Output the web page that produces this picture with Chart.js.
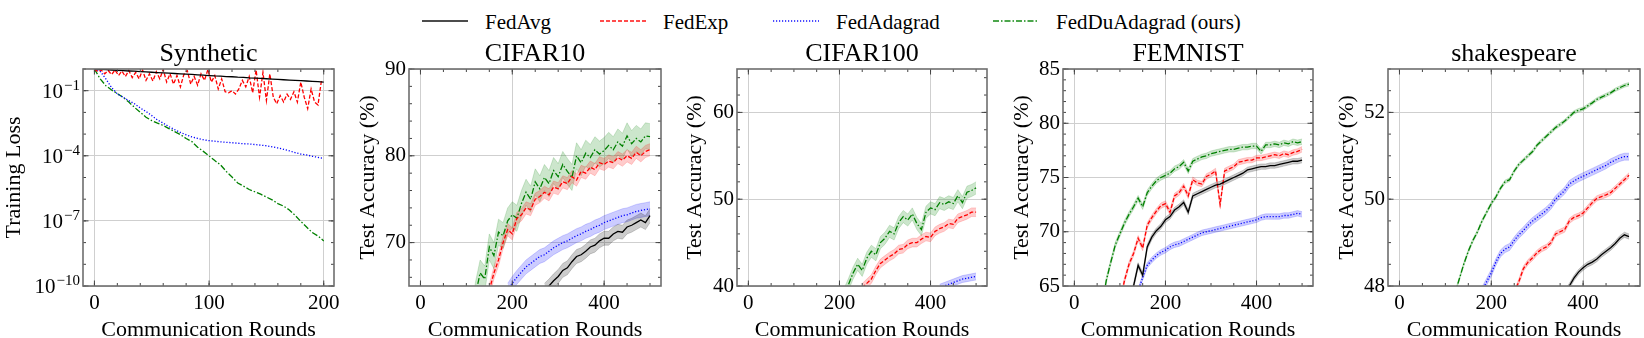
<!DOCTYPE html>
<html>
<head>
<meta charset="utf-8">
<script src="https://cdn.jsdelivr.net/npm/chart.js@4.4.0/dist/chart.umd.min.js"></script>
<style>
  body { margin: 0; width: 1644px; height: 338px; background: #fff; position: relative; overflow: hidden;
         font-family: "Liberation Serif", "DejaVu Serif", serif; }
  canvas { position: absolute; top: 36px; }
  .leg { position: absolute; top: 10px; height: 24px; line-height: 24px; font-size: 21px; display: flex; align-items: center; white-space: nowrap; }
  .leg svg { margin-right: 17px; }
</style>
</head>
<body>
<canvas id="p1" width="345" height="302" style="left:1px"></canvas>
<canvas id="p2" width="318" height="302" style="left:355px"></canvas>
<canvas id="p3" width="317" height="302" style="left:682px"></canvas>
<canvas id="p4" width="316" height="302" style="left:1009px"></canvas>
<canvas id="p5" width="310" height="302" style="left:1334px"></canvas>
<script>
// ---- data ----
const names = ['FedAvg', 'FedExp', 'FedAdagrad', 'FedDuAdagrad (ours)'];
const titles = ['Synthetic', 'CIFAR10', 'CIFAR100', 'FEMNIST', 'shakespeare'];

// synthetic: training loss, every 5 rounds (FedExp every 3 rounds)
const synAvg = [1.0, 0.97, 0.93, 0.90, 0.87, 0.84, 0.81, 0.79, 0.76, 0.73, 0.71, 0.68, 0.66, 0.64, 0.62, 0.60, 0.58, 0.56, 0.54, 0.52,
  0.50, 0.48, 0.47, 0.45, 0.44, 0.42, 0.41, 0.39, 0.38, 0.37, 0.355, 0.34, 0.33, 0.32, 0.31, 0.30, 0.29, 0.28, 0.27, 0.26, 0.25];
const synExp = [1.0, 0.75, 0.9, 0.6, 0.85, 0.55, 0.9, 0.5, 0.8, 0.45, 0.85, 0.4, 0.7, 0.35, 0.9, 0.3, 0.6, 0.28, 0.75, 0.35,
  0.95, 0.25, 0.6, 0.2, 0.5, 0.15, 0.55, 0.85, 0.2, 0.45, 0.18, 0.6, 0.3, 0.95, 0.25, 0.5, 0.12, 0.35, 0.09, 0.08,
  0.1, 0.07, 0.12, 0.3, 0.15, 0.45, 0.08, 0.9, 0.05, 0.7, 0.035, 0.6, 0.05, 0.025, 0.06, 0.03, 0.07, 0.04, 0.09, 0.03,
  0.25, 0.05, 0.015, 0.12, 0.03, 0.022, 0.3];
const synAdagrad = [1.0, 0.79, 0.35, 0.14, 7.1e-2, 5.0e-2, 3.5e-2, 2.5e-2, 1.6e-2, 1.1e-2, 7.1e-3, 4.5e-3, 3.2e-3, 2.2e-3,
  1.6e-3, 1.2e-3, 9.3e-4, 7.4e-4, 6.3e-4, 5.5e-4, 5.0e-4, 4.7e-4, 4.4e-4, 4.2e-4, 4.0e-4, 3.8e-4, 3.6e-4, 3.5e-4,
  3.3e-4, 3.1e-4, 2.9e-4, 2.6e-4, 2.3e-4, 2.0e-4, 1.7e-4, 1.4e-4, 1.2e-4, 1.1e-4, 9.5e-5, 8.5e-5, 7.6e-5];
const synDua = [1.0, 0.35, 0.17, 0.107, 7.4e-2, 5.0e-2, 3.0e-2, 1.7e-2, 1.0e-2, 6.0e-3, 4.2e-3, 3.2e-3, 2.5e-3, 1.8e-3,
  1.3e-3, 9.5e-4, 6.3e-4, 4.5e-4, 2.5e-4, 1.6e-4, 1.0e-4, 6.0e-5, 3.8e-5, 1.9e-5, 1.05e-5, 5.6e-6, 4.0e-6, 2.8e-6,
  2.2e-6, 1.7e-6, 1.26e-6, 9.3e-7, 6.3e-7, 4.8e-7, 3.2e-7, 1.8e-7, 9.5e-8, 5.2e-8, 2.9e-8, 2.0e-8, 1.2e-8];
const lossTicks = [1e-10, 1e-7, 1e-4, 1e-1];
const lossTickExps = ['\u221210', '\u22127', '\u22124', '\u22121'];

// test accuracy, every 10 rounds; each array ends at round 500 (earlier rounds are below the axis)
const c10Avg = [64.5, 65.0, 65.6, 66.1, 66.8, 67.1, 67.8, 68.4, 68.6, 69.0, 69.5, 69.7, 70.2, 70.5, 70.5, 71.0, 71.3, 71.2,
  71.8, 72.0, 72.3, 72.6, 72.3, 73.1];
const c10Exp = [64.5, 66.5, 68.0, 70.0, 71.5, 71.0, 72.8, 73.2, 74.0, 73.8, 75.0, 75.3, 75.8, 75.5, 76.4, 76.2, 77.0, 76.8,
  77.6, 77.2, 78.2, 78.0, 78.7, 78.4, 79.2, 79.0, 79.4, 79.2, 79.8, 79.5, 80.0, 79.7, 80.4, 80.0, 80.5, 80.7];
const c10Adagrad = [64.5, 65.3, 66.0, 66.6, 67.2, 67.6, 68.0, 68.4, 68.6, 69.0, 69.4, 69.7, 70.0, 70.2, 70.5, 70.8, 71.0,
  71.3, 71.5, 71.8, 72.0, 72.3, 72.5, 72.7, 72.9, 73.1, 73.2, 73.4, 73.6, 73.7, 73.8, 73.9];
const c10Dua = [60.0, 64.0, 66.5, 65.8, 69.5, 68.5, 71.2, 70.8, 72.5, 73.2, 72.8, 74.5, 75.8, 75.0, 77.0, 76.2, 77.5, 76.8,
  78.3, 77.6, 79.0, 78.2, 77.5, 80.0, 79.2, 80.3, 79.8, 80.7, 80.2, 80.6, 81.2, 80.7, 81.6, 81.1, 82.3, 81.4, 82.0, 81.6, 82.3, 82.2];
const c10Std = [0.8, 0.7, 0.8, 1.5];

const c100Avg = [];
const c100Exp = [39.8, 40.3, 40.8, 41.8, 42.6, 43.0, 43.4, 43.7, 44.2, 44.3, 44.8, 45.0, 45.0, 45.4, 45.7, 45.6, 46.3, 46.6,
  46.8, 47.2, 47.1, 47.8, 48.0, 48.2, 48.5, 48.5];
const c100Adagrad = [39.8, 40.0, 40.2, 40.4, 40.6, 40.8, 40.9, 41.0, 41.1];
const c100Dua = [39.0, 40.2, 41.5, 42.5, 41.8, 43.2, 44.0, 43.6, 45.0, 45.5, 46.3, 46.0, 47.3, 48.0, 47.6, 48.3, 47.2, 46.5,
  48.5, 49.0, 48.8, 49.6, 49.4, 49.7, 49.5, 50.4, 49.6, 50.8, 51.0, 51.3];
const c100Std = [0.5, 0.5, 0.4, 0.7];

const femAvg = [63.5, 65.0, 66.9, 66.0, 68.6, 69.5, 70.1, 70.5, 71.1, 71.4, 72.0, 72.3, 72.7, 71.8, 73.3, 73.5, 73.7, 73.9,
  74.1, 74.3, 74.4, 74.6, 74.8, 75.0, 75.2, 75.4, 75.7, 75.8, 75.9, 76.0, 76.0, 76.1, 76.1, 76.2, 76.3, 76.4, 76.5, 76.5, 76.6];
const femExp = [63.5, 65.5, 67.0, 68.0, 69.4, 68.5, 70.6, 71.3, 71.9, 72.4, 72.6, 71.8, 73.3, 73.6, 74.2, 73.3, 74.8, 74.5,
  74.4, 75.1, 75.3, 75.6, 72.5, 75.6, 75.8, 76.0, 76.4, 76.5, 76.6, 76.6, 76.8, 76.8, 76.9, 77.0, 77.1, 77.0, 77.2, 77.1,
  77.3, 77.4, 77.6];
const femAdagrad = [64.5, 65.8, 66.9, 67.4, 67.8, 68.1, 68.3, 68.6, 68.8, 68.9, 69.1, 69.3, 69.5, 69.7, 69.9, 70.0, 70.1,
  70.2, 70.3, 70.4, 70.5, 70.6, 70.7, 70.8, 70.9, 71.0, 71.1, 71.3, 71.4, 71.4, 71.4, 71.4, 71.5, 71.5, 71.6, 71.7, 71.6];
const femDua = [63.0, 65.5, 67.2, 68.8, 69.8, 70.8, 71.6, 72.3, 73.1, 72.3, 73.6, 74.2, 74.7, 75.0, 75.2, 75.4, 75.8, 76.0,
  76.4, 75.6, 76.5, 76.7, 76.9, 77.0, 77.2, 77.3, 77.4, 77.5, 77.6, 77.6, 77.7, 77.8, 77.8, 77.9, 77.9, 77.4, 78.0, 78.0,
  78.1, 78.0, 78.2, 78.1, 78.3, 78.2, 78.3];
const femStd = [0.25, 0.25, 0.25, 0.25];

const shkAvg = [47.85, 48.0, 48.18, 48.32, 48.42, 48.5, 48.55, 48.62, 48.72, 48.8, 48.88, 48.98, 49.1, 49.18, 49.14];
const shkExp = [47.85, 48.1, 48.4, 48.55, 48.65, 48.77, 48.85, 48.9, 49.0, 49.2, 49.25, 49.3, 49.5, 49.58, 49.62, 49.68,
  49.8, 49.92, 50.02, 50.06, 50.1, 50.15, 50.25, 50.35, 50.45, 50.55];
const shkAdagrad = [47.9, 48.1, 48.3, 48.55, 48.75, 48.85, 48.9, 49.05, 49.18, 49.28, 49.4, 49.5, 49.58, 49.66, 49.74,
  49.85, 50.0, 50.1, 50.2, 50.35, 50.42, 50.48, 50.53, 50.58, 50.63, 50.68, 50.73, 50.78, 50.85, 50.9, 50.95, 50.98, 50.98];
const shkDua = [47.8, 48.15, 48.5, 48.8, 49.05, 49.25, 49.5, 49.7, 49.9, 50.05, 50.25, 50.4, 50.45, 50.65, 50.8, 50.9,
  51.0, 51.1, 51.25, 51.35, 51.45, 51.55, 51.65, 51.72, 51.8, 51.9, 52.0, 52.05, 52.08, 52.15, 52.22, 52.3, 52.35, 52.4,
  52.45, 52.52, 52.57, 52.62, 52.65];
const shkStd = [0.06, 0.06, 0.08, 0.04];

// ---- styling ----
const FONT = '"Liberation Serif", "DejaVu Serif", serif';
Chart.defaults.font.family = FONT;
Chart.defaults.color = '#000';
const colors = ['0,0,0', '255,0,0', '0,0,255', '0,128,0'];
const dashes = [[], [4, 2], [1.2, 1.8], [6, 2, 1.5, 2]];

const range = (a, b, s) => { const r = []; for (let v = a; v <= b + 1e-9; v += s) r.push(+v.toFixed(6)); return r; };
const synRounds = range(0, 200, 5);
const synExpRounds = range(0, 198, 3);
const accRounds = range(0, 500, 10);

// align a value array to the tail of a rounds array
function pts(rounds, vals, shift) {
  const off = rounds.length - vals.length;
  return vals.map((v, i) => ({ x: rounds[off + i], y: v + (shift || 0) }));
}

function lineDs(k, data) {
  return { data, borderColor: 'rgb(' + colors[k] + ')', borderWidth: 1.3, borderDash: dashes[k],
           pointRadius: 0, tension: 0, fill: false, order: 1 };
}

function accDatasets(series, std) {
  const out = [];
  series.forEach((vals, k) => {
    if (!vals.length) return;
    out.push({ data: pts(accRounds, vals, std[k]), borderColor: 'rgba(' + colors[k] + ',0.25)', borderWidth: 0.7,
               backgroundColor: 'rgba(' + colors[k] + ',0.2)', pointRadius: 0, tension: 0, fill: '+1', order: 2 });
    out.push({ data: pts(accRounds, vals, -std[k]), borderColor: 'rgba(' + colors[k] + ',0.25)', borderWidth: 0.7,
               pointRadius: 0, tension: 0, fill: false, order: 2 });
  });
  series.forEach((vals, k) => { if (vals.length) out.push(lineDs(k, pts(accRounds, vals))); });
  return out;
}

// frame with inward ticks on all four sides, the panel title, and 10^n labels for the log axis
const framePlugin = {
  id: 'frame',
  afterDatasetsDraw(chart, args, o) {
    const { ctx, chartArea: a } = chart;
    const sx = chart.scales.x, sy = chart.scales.y;
    ctx.save();
    ctx.strokeStyle = '#444';
    ctx.lineWidth = 1;
    ctx.beginPath();
    const tx = (v, len) => {
      const p = sx.getPixelForValue(v);
      if (p < a.left || p > a.right) return;
      ctx.moveTo(p, a.bottom); ctx.lineTo(p, a.bottom - len);
      ctx.moveTo(p, a.top); ctx.lineTo(p, a.top + len);
    };
    const ty = (v, len) => {
      const p = sy.getPixelForValue(v);
      if (p < a.top - 0.5 || p > a.bottom + 0.5) return;
      ctx.moveTo(a.left, p); ctx.lineTo(a.left + len, p);
      ctx.moveTo(a.right, p); ctx.lineTo(a.right - len, p);
    };
    o.xMinor.forEach(v => tx(v, 3));
    o.xMajor.forEach(v => tx(v, 5.5));
    o.yMinor.forEach(v => ty(v, 3));
    o.yMajor.forEach(v => ty(v, 5.5));
    ctx.stroke();
    ctx.strokeStyle = '#6e6e6e';
    ctx.lineWidth = 1.6;
    ctx.strokeRect(a.left, a.top, a.right - a.left, a.bottom - a.top);

    ctx.fillStyle = '#000';
    ctx.font = '26px ' + FONT;
    ctx.textAlign = 'center';
    ctx.textBaseline = 'middle';
    ctx.fillText(o.title, (a.left + a.right) / 2, a.top - 14.5);

    if (o.expLabels) {
      ctx.textAlign = 'left';
      ctx.textBaseline = 'alphabetic';
      o.yMajor.forEach((v, i) => {
        const p = sy.getPixelForValue(v);
        ctx.font = '15px ' + FONT;
        const we = ctx.measureText(o.expLabels[i]).width;
        ctx.font = '21px ' + FONT;
        const wm = ctx.measureText('10').width;
        const xe = a.left - 3 - we;
        ctx.fillText('10', xe - wm - 1, p + 7);
        ctx.font = '15px ' + FONT;
        ctx.fillText(o.expLabels[i], xe, p - 1);
      });
    }
    ctx.restore();
  }
};

function makePanel(id, p) {
  new Chart(document.getElementById(id), {
    type: 'line',
    data: { datasets: p.datasets },
    plugins: [framePlugin],
    options: {
      responsive: false,
      animation: false,
      events: [],
      layout: { padding: { left: 0, right: p.rightPad, top: 33, bottom: 0 } },
      plugins: {
        legend: { display: false },
        tooltip: { enabled: false },
        title: { display: false },
        frame: { title: p.title, xMajor: p.xMajor, xMinor: p.xMinor, yMajor: p.yMajor, yMinor: p.yMinor,
                 expLabels: p.expLabels }
      },
      scales: {
        x: {
          type: 'linear', min: p.xMin, max: p.xMax,
          afterBuildTicks: s => { s.ticks = p.xMajor.map(v => ({ value: v })); },
          afterFit: s => { s.height = 52; },
          grid: { color: '#cfcfcf', lineWidth: 1, drawTicks: false },
          border: { display: false },
          ticks: { font: { size: 21 }, color: '#000', padding: 5, maxRotation: 0, autoSkip: false },
          title: { display: true, text: 'Communication Rounds', color: '#000', font: { size: 22 },
                   padding: { top: 0, bottom: -5 } }
        },
        y: {
          type: p.yType || 'linear', min: p.yMin, max: p.yMax,
          afterBuildTicks: s => { s.ticks = p.yMajor.map(v => ({ value: v })); },
          afterFit: s => { s.width = p.yWidth; },
          grid: { color: '#cfcfcf', lineWidth: 1, drawTicks: false },
          border: { display: false },
          ticks: { font: { size: 21 }, color: p.expLabels ? 'rgba(0,0,0,0)' : '#000', padding: 3, autoSkip: false },
          title: { display: true, text: p.yTitle, color: '#000', font: { size: 22 },
                   padding: { top: 0, bottom: 0 } }
        }
      }
    }
  });
}

const accX = { xMin: -24.95, xMax: 523.95, xMajor: [0, 200, 400], xMinor: range(0, 500, 50) };

makePanel('p1', {
  title: titles[0], yTitle: 'Training Loss', yWidth: 82, rightPad: 12,
  xMin: -9.95, xMax: 208.95, xMajor: [0, 100, 200], xMinor: range(0, 200, 20),
  yType: 'logarithmic', yMin: 1e-10, yMax: 1, yMajor: lossTicks,
  yMinor: [1e-10, 1e-9, 1e-8, 1e-7, 1e-6, 1e-5, 1e-4, 1e-3, 1e-2, 1e-1, 1],
  expLabels: lossTickExps,
  datasets: [
    lineDs(0, pts(synRounds, synAvg)),
    lineDs(1, pts(synExpRounds, synExp)),
    lineDs(2, pts(synRounds, synAdagrad)),
    lineDs(3, pts(synRounds, synDua))
  ]
});
makePanel('p2', Object.assign({
  title: titles[1], yTitle: 'Test Accuracy (%)', yWidth: 54, rightPad: 12,
  yMin: 65, yMax: 90, yMajor: [70, 80, 90], yMinor: range(66, 90, 2),
  datasets: accDatasets([c10Avg, c10Exp, c10Adagrad, c10Dua], c10Std)
}, accX));
makePanel('p3', Object.assign({
  title: titles[2], yTitle: 'Test Accuracy (%)', yWidth: 55, rightPad: 12,
  yMin: 40, yMax: 65, yMajor: [40, 50, 60], yMinor: range(40, 64, 2),
  datasets: accDatasets([c100Avg, c100Exp, c100Adagrad, c100Dua], c100Std)
}, accX));
makePanel('p4', Object.assign({
  title: titles[3], yTitle: 'Test Accuracy (%)', yWidth: 54, rightPad: 12,
  yMin: 65, yMax: 85, yMajor: [65, 70, 75, 80, 85], yMinor: range(65, 85, 1),
  datasets: accDatasets([femAvg, femExp, femAdagrad, femDua], femStd)
}, accX));
makePanel('p5', Object.assign({
  title: titles[4], yTitle: 'Test Accuracy (%)', yWidth: 54, rightPad: 4,
  yMin: 48, yMax: 53, yMajor: [48, 50, 52], yMinor: range(48, 53, 0.5),
  datasets: accDatasets([shkAvg, shkExp, shkAdagrad, shkDua], shkStd)
}, accX));

// shared legend across the top
const legendLeft = [422, 600, 773, 993];
names.forEach((n, k) => {
  const d = document.createElement('div');
  d.className = 'leg';
  d.style.left = legendLeft[k] + 'px';
  const dash = dashes[k].length ? ' stroke-dasharray="' + dashes[k].join(' ') + '"' : '';
  d.innerHTML = '<svg width="46" height="24"><line x1="0" y1="11" x2="46" y2="11" stroke="rgb(' + colors[k] +
    ')" stroke-opacity="0.7" stroke-width="2"' + dash + '/></svg>';
  d.appendChild(document.createTextNode(n));
  document.body.appendChild(d);
});
</script>
</body>
</html>
